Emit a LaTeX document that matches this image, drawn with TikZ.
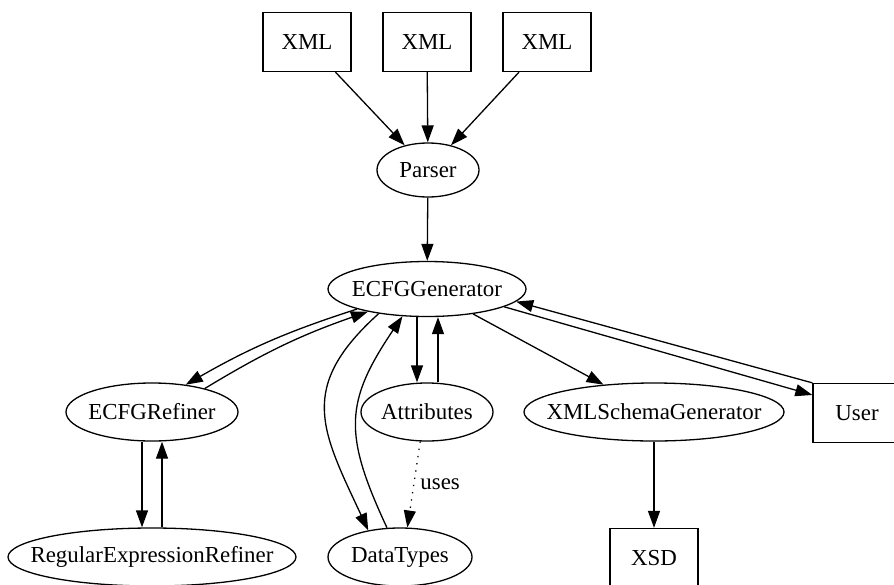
\documentclass[tikz,border=0pt]{standalone}
\usepackage{fontspec}
\setmainfont{Liberation Serif}
\usetikzlibrary{arrows.meta,shapes.geometric}
\def\lbl#1{\makebox[0pt]{#1}}

\begin{document}
\begin{tikzpicture}[x=1pt, y=-1pt,
	every node/.style={font=\fontsize{22.9}{27}\selectfont, inner sep=0pt},
	box/.style={draw, rectangle, line width=1.3pt, minimum width=88pt, minimum height=59pt},
	oval/.style={draw, ellipse, line width=1.3pt, minimum height=58pt},
	link/.style={-{Triangle[length=17pt,width=12pt]}, line width=1.3pt},
	uselink/.style={link, dash pattern=on 1.3pt off 6pt}]
			%%%%% START %%%%%
			
			\useasboundingbox (0,0) rectangle (894,584);
			\clip (0,0) rectangle (894,584);
			
			\node[box] (xmlA) at (307,42) {XML};
			\node[box] (xmlB) at (427,42) {XML};
			\node[box] (xmlC) at (547,42) {XML};
			
			\node[oval, minimum width=102pt, minimum height=54pt] (parser) at (428,170) {\lbl{Parser}};
			\node[oval, minimum width=198pt, minimum height=55pt] (gen) at (427,289) {\lbl{ECFGGenerator}};
			
			\node[oval, minimum width=172pt] (refiner) at (152,412) {\lbl{ECFGRefiner}};
			\node[oval, minimum width=132pt] (attrs) at (427,412) {\lbl{Attributes}};
			\node[oval, minimum width=260pt] (xsg) at (654,412) {\lbl{XMLSchemaGenerator}};
			\node[box] (user) at (857,413) {User};
			
			\node[oval, minimum width=288pt] (regex) at (152,557) {\lbl{RegularExpressionRefiner}};
			\node[oval, minimum width=144pt] (types) at (400,557) {\lbl{DataTypes}};
			\node[box] (xsd) at (654,558) {XSD};
			
			\draw[link] (xmlA) -- (parser);
			\draw[link] (xmlB) -- (parser);
			\draw[link] (xmlC) -- (parser);
			\draw[link] (parser) -- (gen);
			
			\draw[link] (gen.196) to[bend right=6] (refiner.39);
			\draw[link] (refiner.24) to[bend left=6] (gen.201);
			\draw[link] ([xshift=-10pt]refiner.south) -- ([xshift=-10pt]regex.north);
			\draw[link] ([xshift=10pt]regex.north) -- ([xshift=10pt]refiner.south);
			
			\draw[link] (gen.207) to[out=222, in=115, looseness=1.3] (types.140);
			\draw[link] (types.114) to[out=115, in=236, looseness=1.25] (gen.228);
			
			\draw[link] ([xshift=-10pt]gen.south) -- ([xshift=-10pt]attrs.north);
			\draw[link] ([xshift=11pt]attrs.north) -- ([xshift=11pt]gen.south);
			\draw[uselink] (attrs.257) -- node[right, xshift=6pt] {uses} (types.76);
			
			\draw[link] (gen) -- (xsg);
			\draw[link] (xsg) -- (xsd);
			\draw[link] (gen.347) -- (user.158);
			\draw[link] (user.north west) -- (gen.352);
			
			%%%%% END %%%%%
\end{tikzpicture}
\end{document}
